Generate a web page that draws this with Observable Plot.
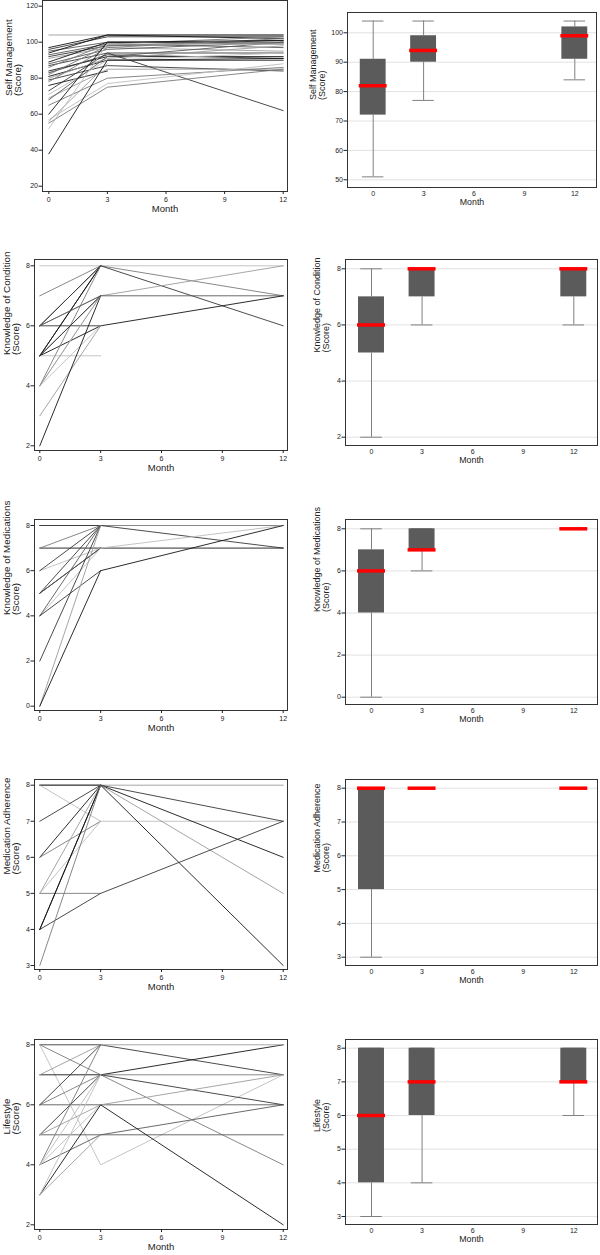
<!DOCTYPE html>
<html><head><meta charset="utf-8">
<script src="https://cdn.jsdelivr.net/npm/d3@7"></script>
<script src="https://cdn.jsdelivr.net/npm/@observablehq/plot@0.6"></script>
<style>
html,body{margin:0;padding:0;background:#fff;}
#root{position:relative;width:600px;height:1255px;overflow:hidden;font-family:"Liberation Sans",Arial,sans-serif;}
#root svg{position:absolute;}
</style></head><body><div id="root"></div>
<script>
// ---------- DATA ----------
const months = [0, 3, 12];
const xTickValues = [0, 3, 6, 9, 12];

// Self Management: one value per subject per visit (null = not observed)
const smMonth0  = [104, 97, 96, 95, 94, 93, 92, 91, 89, 88, 87, 86, 84, 83, 82, 81, 80, 79, 78, 76, 73, 71, 69, 68, 65, 60, 57, 56, 55, 52, 38];
const smMonth3  = [104, 104, 103, 100, 104, 99, 98, 97, 100, 96, 94, 99, 92, 93, 98, 90, 91, 87, 97, 84, 94, 90, 85, 92, 80, 100, 77, 88, 75, 99, 90];
const smMonth12 = [104, 104, 103, 100, 102, 97, 101, 95, 99, 100, 94, 103, 92, 91, 100, 90, 98, 84, 102, null, 62, 94, 85, 100, 86, 101, 88, null, 85, 99, 91];
const smBoxLo  = [51, 77, 84];
const smBoxQ1  = [72, 90, 91];
const smBoxMed = [82, 94, 99];
const smBoxQ3  = [91, 99, 102];
const smBoxHi  = [104, 104, 104];

// Knowledge of Condition
const kcMonth0  = [8, 7, 6, 6, 5, 5, 6, 6, 5, 5, 5, 4, 4, 4, 3, 2, 6, 4, 5];
const kcMonth3  = [8, 8, 8, 7, 7, 6, 6, 8, 5, 8, 8, 7, 6, 8, 6, 7, 7, 7, 7];
const kcMonth12 = [8, 7, 6, 8, 7, 7, null, null, null, null, null, null, null, null, null, null, null, null, null];
const kcBoxLo  = [2, 6, 6];
const kcBoxQ1  = [5, 7, 7];
const kcBoxMed = [6, 8, 8];
const kcBoxQ3  = [7, 8, 8];
const kcBoxHi  = [8, 8, 8];

// Knowledge of Medications
const kmMonth0  = [8, 8, 7, 7, 6, 6, 5, 5, 5, 4, 4, 4, 2, 0, 0];
const kmMonth3  = [8, 8, 7, 8, 7, 8, 8, 7, 7, 7, 8, 6, 8, 8, 6];
const kmMonth12 = [8, 7, 7, null, 8, null, null, null, null, null, null, null, null, null, 8];
const kmBoxLo  = [0, 6, 8];
const kmBoxQ1  = [4, 7, 8];
const kmBoxMed = [6, 7, 8];
const kmBoxQ3  = [7, 8, 8];
const kmBoxHi  = [8, 8, 8];

// Medication Adherence
const maMonth0  = [8, 8, 8, 7, 6, 6, 5, 5, 5, 4, 4, 4, 3, 8];
const maMonth3  = [8, 8, 7, 8, 8, 7, 8, 7, 5, 5, 8, 8, 8, 8];
const maMonth12 = [8, null, 7, 7, 6, null, 5, null, null, 7, 3, null, null, null];
const maBoxLo  = [3, 8, 8];
const maBoxQ1  = [5, 8, 8];
const maBoxMed = [8, 8, 8];
const maBoxQ3  = [8, 8, 8];
const maBoxHi  = [8, 8, 8];

// Lifestyle
const lsMonth0  = [8, 8, 8, 7, 7, 6, 6, 6, 5, 5, 5, 4, 4, 4, 4, 3, 3, 3];
const lsMonth3  = [8, 7, 4, 7, 8, 6, 7, 8, 5, 7, 6, 5, 8, 7, 6, 6, 7, 5];
const lsMonth12 = [7, 4, 7, 8, 8, 6, 7, null, 5, 6, 7, 6, null, null, null, 2, null, null];
const lsBoxLo  = [3, 4, 6];
const lsBoxQ1  = [4, 6, 7];
const lsBoxMed = [6, 7, 7];
const lsBoxQ3  = [8, 8, 8];
const lsBoxHi  = [8, 8, 8];

// ---------- STYLE ----------
const palette = ["#151515", "#383838", "#595959", "#7a7a7a", "#9c9c9c", "#bdbdbd"];
const smShade = [4,0,1,2,0,2,1,4,0,2,1,3,0,1,3,0,4,1,3,0,1,5,4,2,3,0,5,4,3,5,0];
const kcShade = [5,3,1,4,2,0,1,1,5,0,0,5,5,3,4,0,2,4,1];
const kmShade = [3,1,0,3,5,1,1,0,2,5,2,1,1,4,0];
const maShade = [4,1,5,1,0,3,4,5,3,1,0,0,3,2];
const lsShade = [1,3,5,0,4,2,3,1,2,1,4,2,3,5,5,0,5,4];
const FONT = "Liberation Sans, Arial, Helvetica, sans-serif";
const BOX_HALF = 0.77, MED_HALF = 0.83, CAP_HALF = 0.64;
const fmt = d => String(d);

function subjects(v0, v3, v12, shade) {
  const rows = [];
  v0.forEach((_, i) => {
    [v0[i], v3[i], v12[i]].forEach((v, j) => {
      if (v != null) rows.push({id: i, month: months[j], score: v, color: palette[shade[i]]});
    });
  });
  return rows;
}
function boxes(lo, q1, med, q3, hi) {
  return months.map((m, i) => ({month: m, lo: lo[i], q1: q1[i], med: med[i], q3: q3[i], hi: hi[i]}));
}

const root = document.getElementById("root");

function panel(cfg) {
  const {left, frame, xt, yt, yTicks, label, labelDx, monthDy, kind, data} = cfg;
  const fx0 = Math.floor(frame[0]), fx1 = Math.floor(frame[1]);
  const fy0 = Math.floor(frame[2]), fy1 = Math.floor(frame[3]);
  const svgTop = Math.max(0, fy0 - 12);
  const mL = fx0 - left, mR = left + 300 - fx1, mT = fy0 - svgTop, mB = 32;
  const height = fy1 - svgTop + mB;
  const [[vTop, pTop], [vBot, pBot]] = yt;
  const marks = [];
  if (kind === "line") {
    marks.push(Plot.line(data, {x: "month", y: "score", z: "id", stroke: "color", strokeWidth: 0.9}));
  } else {
    marks.push(Plot.gridY(yTicks, {stroke: "#e2e2e2", strokeOpacity: 1}));
    marks.push(Plot.ruleX(data, {x: "month", y1: "lo", y2: "q1", stroke: "#808080", strokeWidth: 1}));
    marks.push(Plot.ruleX(data, {x: "month", y1: "q3", y2: "hi", stroke: "#808080", strokeWidth: 1}));
    marks.push(Plot.ruleY(data, {y: "lo", x1: d => d.month - CAP_HALF, x2: d => d.month + CAP_HALF, stroke: "#808080"}));
    marks.push(Plot.ruleY(data, {y: "hi", x1: d => d.month - CAP_HALF, x2: d => d.month + CAP_HALF, stroke: "#808080"}));
    marks.push(Plot.rect(data, {x1: d => d.month - BOX_HALF, x2: d => d.month + BOX_HALF, y1: "q1", y2: "q3", fill: "#5b5b5b"}));
    marks.push(Plot.ruleY(data, {y: "med", x1: d => d.month - MED_HALF, x2: d => d.month + MED_HALF, stroke: "#ff0000", strokeWidth: 3.5}));
  }
  marks.push(Plot.frame({stroke: "#333", strokeWidth: 1}));
  marks.push(Plot.axisX({ticks: xTickValues, tickFormat: fmt, tickSize: kind === "line" ? 3 : 0, tickPadding: kind === "line" ? 2.5 : 3.5, fontSize: 7, label: null}));
  marks.push(Plot.axisY({ticks: yTicks, tickFormat: fmt, tickSize: 3.5, tickPadding: 1, fontSize: 7, label: null}));
  marks.push(Plot.text([label], {text: d => d, frameAnchor: "left", rotate: -90, dx: labelDx, fontSize: kind === "line" ? 9.8 : 9, lineHeight: 0.95, fill: "#222"}));
  marks.push(Plot.text(["Month"], {text: d => d, frameAnchor: "bottom", dy: monthDy, fontSize: kind === "line" ? 9.5 : 8.8, fill: "#222"}));
  const chart = Plot.plot({
    width: 300, height,
    marginLeft: mL, marginRight: mR, marginTop: mT, marginBottom: mB,
    x: {domain: [0, 12], insetLeft: xt[0] - fx0, insetRight: fx1 - xt[1]},
    y: {domain: [vBot, vTop], insetTop: pTop - fy0, insetBottom: fy1 - pBot},
    color: {type: "identity"},
    style: {fontFamily: FONT, fontSize: "7px", color: "#222", background: "transparent", overflow: "visible"},
    marks
  });
  chart.style.left = left + "px";
  chart.style.top = svgTop + "px";
  root.append(chart);
}

const L = "line", B = "box";
panel({left: 0, kind: L, frame: [42.7, 287, 0, 191], xt: [48.3, 282.7], yt: [[120, 5.7], [20, 185.7]],
  yTicks: [20, 40, 60, 80, 100, 120], label: "Self Management\n(Score)", labelDx: -29, monthDy: 20,
  data: subjects(smMonth0, smMonth3, smMonth12, smShade)});
panel({left: 300, kind: B, frame: [347.7, 596.7, 12.7, 187], xt: [372.7, 574.3], yt: [[100, 32.3], [50, 179.3]],
  yTicks: [50, 60, 70, 80, 90, 100], label: "Self Management\n(Score)", labelDx: -29.5, monthDy: 17,
  data: boxes(smBoxLo, smBoxQ1, smBoxMed, smBoxQ3, smBoxHi)});

panel({left: 0, kind: L, frame: [34.3, 287.3, 259.3, 450.3], xt: [39.3, 282.7], yt: [[8, 265.3], [2, 445.3]],
  yTicks: [2, 4, 6, 8], label: "Knowledge of Condition\n(Score)", labelDx: -23, monthDy: 20,
  data: subjects(kcMonth0, kcMonth3, kcMonth12, kcShade)});
panel({left: 300, kind: B, frame: [345.7, 597.7, 259.3, 445], xt: [371, 573.3], yt: [[8, 268.3], [2, 436.7]],
  yTicks: [2, 4, 6, 8], label: "Knowledge of Condition\n(Score)", labelDx: -24, monthDy: 17,
  data: boxes(kcBoxLo, kcBoxQ1, kcBoxMed, kcBoxQ3, kcBoxHi)});

panel({left: 0, kind: L, frame: [34.3, 287.3, 519.3, 710], xt: [39.3, 282.7], yt: [[8, 525], [0, 705.7]],
  yTicks: [0, 2, 4, 6, 8], label: "Knowledge of Medications\n(Score)", labelDx: -23, monthDy: 20,
  data: subjects(kmMonth0, kmMonth3, kmMonth12, kmShade)});
panel({left: 300, kind: B, frame: [345.7, 597.7, 519.3, 704], xt: [371, 573.3], yt: [[8, 528.3], [0, 696.7]],
  yTicks: [0, 2, 4, 6, 8], label: "Knowledge of Medications\n(Score)", labelDx: -24, monthDy: 17,
  data: boxes(kmBoxLo, kmBoxQ1, kmBoxMed, kmBoxQ3, kmBoxHi)});

panel({left: 0, kind: L, frame: [34.3, 287.3, 779.3, 969.3], xt: [39.3, 282.7], yt: [[8, 784.7], [3, 965]],
  yTicks: [3, 4, 5, 6, 7, 8], label: "Medication Adherence\n(Score)", labelDx: -23, monthDy: 20,
  data: subjects(maMonth0, maMonth3, maMonth12, maShade)});
panel({left: 300, kind: B, frame: [345.7, 597.7, 779.3, 965], xt: [371, 573.3], yt: [[8, 787.7], [3, 956.7]],
  yTicks: [3, 4, 5, 6, 7, 8], label: "Medication Adherence\n(Score)", labelDx: -24, monthDy: 17,
  data: boxes(maBoxLo, maBoxQ1, maBoxMed, maBoxQ3, maBoxHi)});

panel({left: 0, kind: L, frame: [34.3, 287.3, 1039.3, 1229.3], xt: [39.3, 282.7], yt: [[8, 1044.3], [2, 1224.3]],
  yTicks: [2, 4, 6, 8], label: "Lifestyle\n(Score)", labelDx: -23, monthDy: 20,
  data: subjects(lsMonth0, lsMonth3, lsMonth12, lsShade)});
panel({left: 300, kind: B, frame: [345.7, 597.7, 1039.3, 1224.3], xt: [371, 573.3], yt: [[8, 1047.7], [3, 1216]],
  yTicks: [3, 4, 5, 6, 7, 8], label: "Lifestyle\n(Score)", labelDx: -24, monthDy: 17,
  data: boxes(lsBoxLo, lsBoxQ1, lsBoxMed, lsBoxQ3, lsBoxHi)});
</script></body></html>
